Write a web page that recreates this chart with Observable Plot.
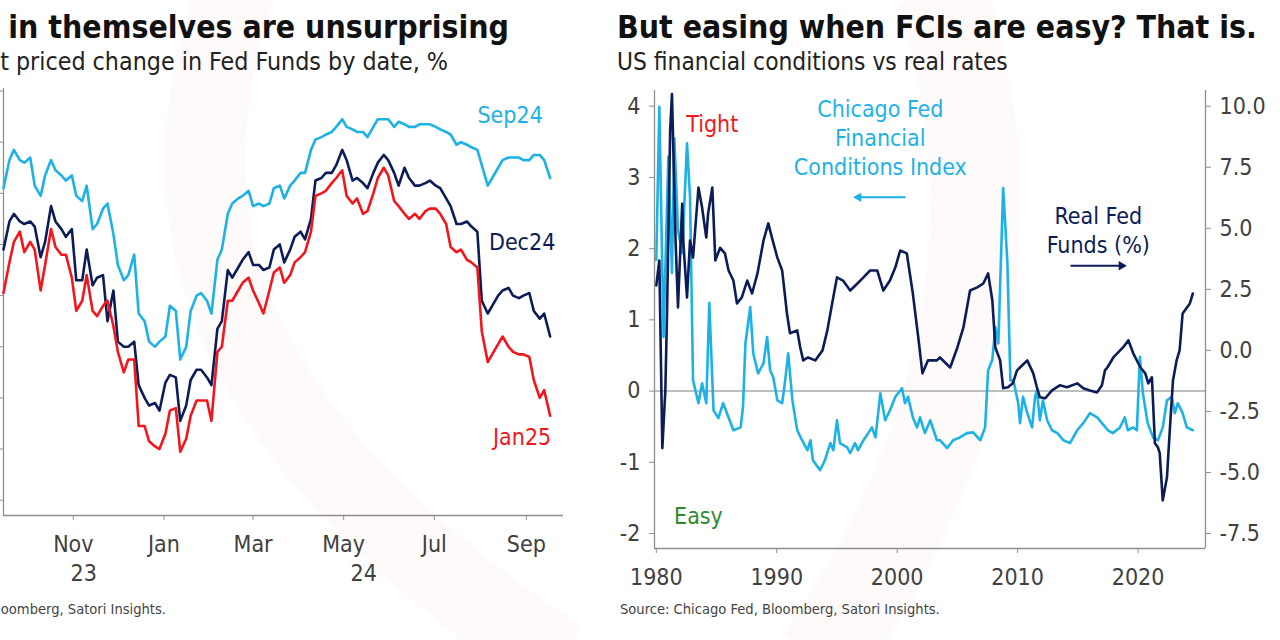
<!DOCTYPE html>
<html><head><meta charset="utf-8">
<script src="https://cdn.jsdelivr.net/npm/d3@7"></script>
<script src="https://cdn.jsdelivr.net/npm/@observablehq/plot@0.6"></script>
<style>
html,body{margin:0;padding:0;width:1280px;height:640px;overflow:hidden;background:#fff;}
#page{position:relative;width:1280px;height:640px;overflow:hidden;background:#fff;}
.panel{position:absolute;}
</style></head><body><div id="page"></div>
<script>
// ---------- Left panel data: priced change in Fed Funds by meeting date, % ----------
// Friday observations
const friDates = ["2023-09-15","2023-09-22","2023-09-29","2023-10-06","2023-10-13","2023-10-20","2023-10-27","2023-11-03","2023-11-10","2023-11-17","2023-11-24","2023-12-01","2023-12-08","2023-12-15","2023-12-22","2023-12-29",
"2024-01-05","2024-01-12","2024-01-19","2024-01-26","2024-02-02","2024-02-09","2024-02-16","2024-02-23","2024-03-01","2024-03-08","2024-03-15","2024-03-22","2024-03-29",
"2024-04-05","2024-04-12","2024-04-19","2024-04-26","2024-05-03","2024-05-10","2024-05-17","2024-05-24","2024-05-31","2024-06-07","2024-06-14","2024-06-21","2024-06-28",
"2024-07-05","2024-07-12","2024-07-19","2024-07-26","2024-08-02","2024-08-09","2024-08-16","2024-08-23","2024-08-30","2024-09-06","2024-09-13","2024-09-17"];
const sep24Fri = [-0.38,-0.23,-0.28,-0.37,-0.33,-0.31,-0.35,-0.41,-0.37,-0.52,-0.44,-0.68,-0.72,-0.87,-0.98,-0.98,
-0.84,-1.05,-0.86,-0.79,-0.87,-0.62,-0.44,-0.41,-0.45,-0.45,-0.38,-0.42,-0.35,
-0.32,-0.19,-0.17,-0.14,-0.14,-0.16,-0.18,-0.11,-0.11,-0.12,-0.14,-0.13,-0.13,
-0.15,-0.17,-0.20,-0.22,-0.29,-0.34,-0.27,-0.26,-0.27,-0.25,-0.27,-0.34];
const dec24Fri = [-0.62,-0.48,-0.52,-0.53,-0.59,-0.51,-0.57,-0.74,-0.62,-0.73,-0.90,-0.98,-1.00,-1.15,-1.23,-1.25,
-1.11,-1.29,-1.13,-1.09,-1.15,-0.90,-0.73,-0.66,-0.68,-0.70,-0.62,-0.67,-0.57,
-0.58,-0.35,-0.32,-0.29,-0.27,-0.34,-0.38,-0.28,-0.27,-0.37,-0.34,-0.37,-0.35,
-0.38,-0.45,-0.52,-0.53,-0.82,-0.84,-0.78,-0.80,-0.80,-0.86,-0.87,-0.96];
const jan25Fri = [-0.79,-0.59,-0.63,-0.62,-0.68,-0.61,-0.64,-0.86,-0.72,-0.88,-0.82,-1.02,-1.05,-1.31,-1.37,-1.40,
-1.25,-1.41,-1.27,-1.21,-1.29,-1.00,-0.82,-0.75,-0.78,-0.87,-0.71,-0.75,-0.67,
-0.63,-0.41,-0.39,-0.34,-0.41,-0.42,-0.47,-0.34,-0.33,-0.45,-0.50,-0.50,-0.46,
-0.48,-0.61,-0.62,-0.67,-0.94,-1.03,-0.96,-1.02,-1.03,-1.13,-1.17,-1.27];
// Tuesday observations
const tueDates = ["2023-09-19","2023-09-26","2023-10-03","2023-10-10","2023-10-17","2023-10-24","2023-10-31","2023-11-07","2023-11-14","2023-11-21","2023-11-28","2023-12-05","2023-12-12","2023-12-19","2023-12-26",
"2024-01-02","2024-01-09","2024-01-16","2024-01-23","2024-01-30","2024-02-06","2024-02-13","2024-02-20","2024-02-27","2024-03-05","2024-03-12","2024-03-19","2024-03-26",
"2024-04-02","2024-04-09","2024-04-16","2024-04-23","2024-04-30","2024-05-07","2024-05-14","2024-05-21","2024-05-28","2024-06-04","2024-06-11","2024-06-18","2024-06-25",
"2024-07-02","2024-07-09","2024-07-16","2024-07-23","2024-07-30","2024-08-06","2024-08-13","2024-08-20","2024-08-27","2024-09-03","2024-09-10"];
const sep24Tue = [-0.27,-0.27,-0.26,-0.41,-0.27,-0.33,-0.33,-0.43,-0.54,-0.46,-0.56,-0.74,-0.64,-0.90,-1.00,
-0.96,-0.86,-1.00,-0.80,-0.82,-0.66,-0.48,-0.42,-0.39,-0.44,-0.44,-0.37,-0.37,
-0.32,-0.23,-0.18,-0.16,-0.11,-0.15,-0.16,-0.14,-0.11,-0.14,-0.13,-0.14,-0.13,
-0.14,-0.16,-0.21,-0.21,-0.23,-0.37,-0.30,-0.26,-0.26,-0.27,-0.25];
const dec24Tue = [-0.51,-0.51,-0.51,-0.65,-0.45,-0.54,-0.54,-0.74,-0.76,-0.72,-0.78,-1.00,-0.98,-1.20,-1.22,
-1.14,-1.12,-1.23,-1.09,-1.12,-0.93,-0.70,-0.69,-0.63,-0.68,-0.69,-0.60,-0.62,
-0.55,-0.50,-0.34,-0.32,-0.23,-0.35,-0.36,-0.32,-0.25,-0.32,-0.30,-0.37,-0.36,
-0.37,-0.42,-0.52,-0.51,-0.55,-0.87,-0.80,-0.77,-0.81,-0.79,-0.89];
const jan25Tue = [-0.67,-0.55,-0.59,-0.78,-0.54,-0.64,-0.73,-0.82,-0.86,-0.84,-0.92,-1.10,-1.05,-1.31,-1.39,
-1.34,-1.24,-1.36,-1.21,-1.21,-1.02,-0.82,-0.78,-0.73,-0.83,-0.78,-0.69,-0.72,
-0.65,-0.55,-0.40,-0.36,-0.31,-0.44,-0.48,-0.40,-0.30,-0.43,-0.48,-0.48,-0.47,
-0.46,-0.52,-0.63,-0.66,-0.69,-1.06,-0.99,-1.00,-1.03,-1.04,-1.20];
const leftSeriesNames = ["Sep24","Dec24","Jan25"];
const leftYTicks = [0,-0.2,-0.4,-0.6,-0.8,-1.0,-1.2,-1.4,-1.6];
const monthTicks = ["2023-11-01","2024-01-01","2024-03-01","2024-05-01","2024-07-01","2024-09-01"];
const monthLabels = ["Nov","Jan","Mar","May","Jul","Sep"];
const yearLabels = ["23","24"];
const yearStarts = ["2023-01-01","2024-01-01"];

// ---------- Right panel data ----------
const fciYears = [1980.0,1980.25,1980.6,1981.0,1981.3,1981.5,1981.8,1982.15,1982.55,1982.8,1983.05,1983.25,1983.5,1983.8,1984.15,1984.4,1984.75,1985.15,1985.55,1986.0,1986.4,1987.0,1987.2,1987.4,1987.8,1988.05,1988.45,1988.9,1989.2,1989.45,1989.7,1990.05,1990.45,1990.7,1990.95,1991.3,1991.7,1992.1,1992.55,1992.8,1993.0,1993.6,1994.0,1994.45,1994.7,1995.0,1995.25,1995.85,1996.1,1996.5,1996.75,1997.2,1997.6,1997.9,1998.2,1998.6,1999.0,1999.4,1999.85,2000.4,2000.65,2000.9,2001.3,2001.65,2001.9,2002.3,2002.75,2003.3,2003.55,2004.15,2004.65,2005.2,2005.8,2006.3,2006.9,2007.3,2007.55,2007.9,2008.15,2008.4,2008.8,2009.15,2009.4,2009.65,2010.05,2010.2,2010.45,2010.8,2011.2,2011.45,2011.6,2011.85,2012.1,2012.45,2012.85,2013.3,2013.8,2014.35,2014.95,2015.45,2016.0,2016.6,2017.0,2017.5,2017.9,2018.5,2018.9,2019.15,2019.6,2019.9,2020.15,2020.4,2020.8,2021.25,2021.65,2022.05,2022.4,2022.8,2023.05,2023.3,2023.7,2024.05,2024.55];
const fciValues = [1.84,3.99,0.76,3.29,1.66,3.55,2.26,1.94,3.48,2.72,0.15,0.01,-0.17,0.11,-0.17,1.24,-0.27,-0.38,-0.17,-0.37,-0.55,-0.51,-0.22,0.67,1.18,0.53,0.25,0.39,0.76,0.29,0.20,-0.13,-0.17,0.15,0.53,-0.13,-0.55,-0.69,-0.83,-0.69,-0.97,-1.11,-0.97,-0.73,-0.83,-0.41,-0.73,-0.79,-0.87,-0.73,-0.83,-0.69,-0.59,-0.51,-0.65,-0.03,-0.41,-0.27,-0.08,0.04,-0.17,-0.08,-0.37,-0.51,-0.37,-0.59,-0.41,-0.69,-0.69,-0.80,-0.69,-0.65,-0.59,-0.58,-0.69,-0.51,0.29,0.44,0.90,0.67,2.85,1.80,0.15,0.15,-0.17,-0.45,-0.08,-0.31,-0.51,-0.08,0.01,-0.41,-0.13,-0.41,-0.55,-0.59,-0.69,-0.73,-0.55,-0.45,-0.31,-0.37,-0.45,-0.55,-0.59,-0.51,-0.37,-0.55,-0.51,-0.55,0.48,-0.03,-0.45,-0.65,-0.69,-0.51,-0.13,-0.08,-0.31,-0.17,-0.31,-0.51,-0.55];
const rffYears = [1980.0,1980.25,1980.5,1980.75,1980.9,1981.15,1981.3,1981.6,1981.8,1982.15,1982.25,1982.55,1982.8,1983.05,1983.5,1983.8,1984.15,1984.3,1984.65,1984.9,1985.3,1985.7,1986.0,1986.4,1986.7,1987.1,1987.55,1987.95,1988.4,1988.9,1989.3,1989.6,1990.05,1990.45,1990.85,1991.1,1991.7,1991.95,1992.2,1992.6,1993.2,1993.8,1994.2,1994.6,1995.0,1995.5,1996.1,1996.7,1997.2,1997.75,1998.35,1998.85,1999.4,1999.85,2000.25,2000.8,2001.3,2001.75,2002.1,2002.55,2003.3,2003.55,2004.4,2005.0,2005.5,2006.05,2006.65,2007.15,2007.55,2007.9,2008.15,2008.55,2008.8,2009.2,2009.6,2009.95,2010.2,2010.8,2011.3,2011.6,2011.85,2012.3,2012.85,2013.5,2014.1,2014.95,2015.45,2016.0,2016.6,2017.0,2017.25,2017.45,2017.95,2018.75,2019.2,2019.6,2020.2,2020.6,2020.85,2021.15,2021.4,2021.65,2021.8,2022.05,2022.4,2022.65,2022.9,2023.2,2023.45,2023.7,2024.3,2024.55];
const rffValues = [2.66,3.68,-4.0,-1.64,1.76,9.0,10.5,4.5,1.76,6.0,4.38,2.17,4.5,3.8,6.67,5.85,4.62,5.6,6.67,3.68,4.2,3.97,3.27,2.86,1.92,2.17,2.86,2.33,3.15,4.5,5.2,4.62,3.8,3.27,1.51,0.7,0.82,0.12,-0.41,-0.29,-0.41,0.0,0.82,1.92,2.99,2.86,2.45,2.74,2.99,3.27,3.27,2.45,2.86,3.4,4.09,3.97,2.33,0.53,-0.94,-0.41,-0.41,-0.29,-0.7,0.12,0.94,2.45,2.58,2.74,3.15,2.05,0.12,-0.41,-1.55,-1.51,-1.35,-0.82,-0.7,-0.41,-0.94,-1.51,-1.92,-1.96,-1.64,-1.43,-1.51,-1.35,-1.55,-1.64,-1.72,-1.43,-0.82,-0.7,-0.29,0.12,0.41,-0.12,-0.7,-0.94,-1.35,-1.1,-3.8,-3.97,-4.21,-6.14,-5.2,-3.15,-1.23,-0.41,0.0,1.51,1.92,2.33];
const leftTicksR = [-2,-1,0,1,2,3,4];
const rightTicksR = [-7.5,-5,-2.5,0,2.5,5,7.5,10];
const xTicksR = [1980,1990,2000,2010,2020];

// ---------- Style ----------
const FONT = '"DejaVu Sans Condensed","DejaVu Sans",sans-serif';
const C = {light:"#1cb2e8", navy:"#0c1c58", red:"#f2161c", green:"#2f8a2f", tick:"#404040", axis:"#8f8f8f", title:"#111111"};

const page = document.getElementById("page");

// very faint background watermark swooshes
const bg = d3.select(page).append("svg").attr("width", 1280).attr("height", 640)
  .style("position", "absolute").style("left", 0).style("top", 0);
bg.append("path").attr("d", "M235,-10 C175,180 170,400 560,660").attr("fill", "none")
  .attr("stroke", "#e33a3a").attr("stroke-opacity", 0.025).attr("stroke-width", 80);
bg.append("path").attr("d", "M940,-10 C1010,200 980,430 820,660").attr("fill", "none")
  .attr("stroke", "#e33a3a").attr("stroke-opacity", 0.022).attr("stroke-width", 90);

// ---------- Left panel ----------
const xDomL = [new Date("2023-09-15"), new Date("2024-09-26")];
const yDomL = [-1.66, 0.01];
function mergeSeries(fv, tv) {
  const rows = friDates.map((d, i) => ({date: new Date(d), v: fv[i]}))
    .concat(tueDates.map((d, i) => ({date: new Date(d), v: tv[i]})));
  return rows.sort((a, b) => a.date - b.date);
}
const leftSeries = [mergeSeries(sep24Fri, sep24Tue), mergeSeries(dec24Fri, dec24Tue), mergeSeries(jan25Fri, jan25Tue)];
const monthMap = new Map(monthTicks.map((d, i) => [+new Date(d), monthLabels[i]]));
const yearCenters = yearStarts.map(s => {
  const a = new Date(s), b = new Date(String(a.getUTCFullYear() + 1) + "-01-01");
  const lo = Math.max(+a, +xDomL[0]), hi = Math.min(+b, +xDomL[1]);
  return new Date((lo + hi) / 2);
});
const leftColors = [C.light, C.navy, C.red];
const leftLabelOffsets = [[-40, -62], [-28, -94], [-28, 22]];

const leftPlot = Plot.plot({
  width: 640, height: 522,
  marginLeft: 60, marginRight: 20, marginTop: 10, marginBottom: 85,
  style: {fontFamily: FONT, fontSize: "23px", color: C.tick, background: "transparent", overflow: "visible"},
  x: {type: "utc", domain: xDomL},
  y: {domain: yDomL, axis: null},
  marks: [
    Plot.ruleX([xDomL[0]], {stroke: C.axis, strokeWidth: 1.3}),
    Plot.ruleY([yDomL[0]], {stroke: C.axis, strokeWidth: 1.3}),
    Plot.ruleY(leftYTicks, {y: d => d, x1: d3.utcHour.offset(xDomL[0], -81), x2: xDomL[0], stroke: C.axis, strokeWidth: 1}),
    Plot.axisX({ticks: monthTicks.map(d => new Date(d)), tickFormat: d => monthMap.get(+d), tickSize: 5, tickPadding: 15, label: null, stroke: C.axis, fontSize: 23}),
    Plot.text(yearLabels, {x: yearCenters, text: yearLabels, frameAnchor: "bottom", dy: 65, fontSize: 23, fill: C.tick}),
    ...leftSeries.map((rows, k) => Plot.line(rows, {x: "date", y: "v", stroke: leftColors[k], strokeWidth: 2.6, strokeLinejoin: "round"})),
    ...leftSeries.map((rows, k) => Plot.text(rows, Plot.selectLast({x: "date", y: "v", text: () => leftSeriesNames[k], dx: leftLabelOffsets[k][0], dy: leftLabelOffsets[k][1], fill: leftColors[k], fontSize: 23})))
  ]
});
leftPlot.classList.add("panel");
leftPlot.style.left = "-57px";
leftPlot.style.top = "78px";
page.appendChild(leftPlot);

// ---------- Right panel ----------
const toL = r => -2 + (r + 7.5) * 6 / 17.5;      // right-axis value -> left-axis units
const fromL = l => (l + 2) * 17.5 / 6 - 7.5;
const xDomR = [1979.85, 2025.6];
const yDomR = [-2.21, 4.22];

const rightPlot = Plot.plot({
  width: 690, height: 520,
  marginLeft: 64, marginRight: 75, marginTop: 10, marginBottom: 52,
  style: {fontFamily: FONT, fontSize: "23px", color: C.tick, background: "transparent", overflow: "visible"},
  x: {domain: xDomR},
  y: {domain: yDomR},
  marks: [
    Plot.ruleY([0], {stroke: "#a8a8a8", strokeWidth: 1.5}),
    Plot.ruleX([xDomR[0], xDomR[1]], {stroke: C.axis, strokeWidth: 1.3}),
    Plot.ruleY([yDomR[0]], {stroke: C.axis, strokeWidth: 1.3}),
    Plot.axisX({ticks: xTicksR, tickFormat: d => String(d), tickSize: 5, tickPadding: 15, label: null, stroke: C.axis, fontSize: 23}),
    Plot.axisY({ticks: leftTicksR, anchor: "left", tickFormat: d => String(d), tickSize: 5, tickPadding: 9, label: null, stroke: C.axis, fontSize: 23}),
    Plot.axisY({ticks: rightTicksR.map(toL), anchor: "right", tickFormat: d => fromL(d).toFixed(1), tickSize: 5, tickPadding: 9, label: null, stroke: C.axis, fontSize: 23}),
    Plot.line(fciValues, {x: fciYears, y: fciValues, stroke: C.light, strokeWidth: 2.6, strokeLinejoin: "round"}),
    Plot.line(rffValues, {x: rffYears, y: rffValues.map(toL), stroke: C.navy, strokeWidth: 2.6, strokeLinejoin: "round"}),
    Plot.text(["Tight"], {x: [1984.65], y: [3.74], text: ["Tight"], fill: C.red, fontSize: 23}),
    Plot.text(["Easy"], {x: [1983.5], y: [-1.76], text: ["Easy"], fill: C.green, fontSize: 23}),
    Plot.text(["Chicago Fed\nFinancial\nConditions Index"], {x: [1998.6], y: [3.57], text: ["Chicago Fed\nFinancial\nConditions Index"], fill: C.light, fontSize: 23, lineHeight: 1.25}),
    Plot.text(["Real Fed\nFunds (%)"], {x: [2016.7], y: [2.27], text: ["Real Fed\nFunds (%)"], fill: C.navy, fontSize: 23, lineHeight: 1.25}),
    Plot.link([0], {x1: [2000.69], x2: [1996.8], y1: [2.72], y2: [2.72], stroke: C.light, strokeWidth: 2}),
    Plot.dot([0], {x: [1996.79], y: [2.72], symbol: "triangle2", r: 4.5, fill: C.light, rotate: -90}),
    Plot.link([0], {x1: [2014.39], x2: [2018.6], y1: [1.76], y2: [1.76], stroke: C.navy, strokeWidth: 2}),
    Plot.dot([0], {x: [2018.62], y: [1.76], symbol: "triangle2", r: 4.5, fill: C.navy, rotate: 90})
  ]
});
rightPlot.classList.add("panel");
rightPlot.style.left = "590px";
rightPlot.style.top = "80px";
page.appendChild(rightPlot);

// ---------- Titles, subtitles, sources ----------
const svg = d3.select(page).append("svg")
  .attr("width", 1280).attr("height", 640)
  .style("position", "absolute").style("left", 0).style("top", 0)
  .style("font-family", FONT);

function fitSize(text, weight, target, base) {
  const t = svg.append("text").attr("font-size", base).attr("font-weight", weight).text(text);
  const w = t.node().getComputedTextLength();
  t.remove();
  return base * target / w;
}
const titleR = "But easing when FCIs are easy? That is.";
const titleL = "Cuts in themselves are unsurprising";
const subR = "US financial conditions vs real rates";
const subL = "Market priced change in Fed Funds by date, %";
const srcR = "Source: Chicago Fed, Bloomberg, Satori Insights.";
const srcL = "Source: Bloomberg, Satori Insights.";

const tSize = fitSize(titleR, "bold", 640, 30);
const sSize = fitSize(subR, "normal", 391, 22);
const fSize = fitSize(srcR, "normal", 320, 14);

svg.append("text").attr("x", 617).attr("y", 38).attr("font-size", tSize).attr("font-weight", "bold").attr("fill", C.title).text(titleR);
svg.append("text").attr("x", 509).attr("y", 38).attr("text-anchor", "end").attr("font-size", tSize).attr("font-weight", "bold").attr("fill", C.title).text(titleL);
svg.append("text").attr("x", 617).attr("y", 70).attr("font-size", sSize).attr("fill", "#222").text(subR);
svg.append("text").attr("x", 448).attr("y", 70).attr("text-anchor", "end").attr("font-size", sSize * 1.02).attr("fill", "#222").text(subL);
svg.append("text").attr("x", 620).attr("y", 614).attr("font-size", fSize).attr("fill", "#444").text(srcR);
svg.append("text").attr("x", 166).attr("y", 614).attr("text-anchor", "end").attr("font-size", fSize).attr("fill", "#444").text(srcL);
</script></body></html>
